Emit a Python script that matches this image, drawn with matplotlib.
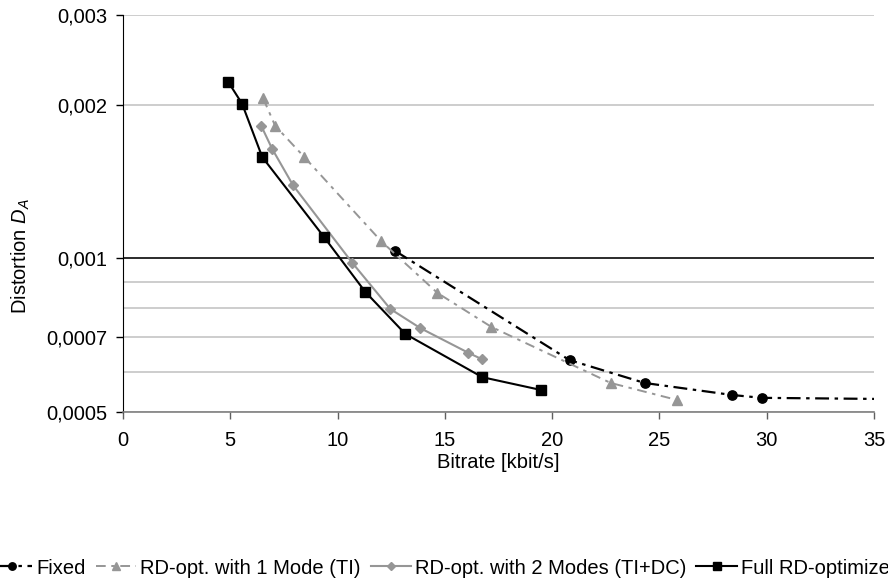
import matplotlib
matplotlib.use("Agg")
import matplotlib.pyplot as plt
from matplotlib.ticker import FixedLocator, NullFormatter

plt.rcParams['font.family'] = ['Liberation Sans', 'DejaVu Sans']
plt.rcParams['mathtext.fontset'] = 'custom'
plt.rcParams['mathtext.rm'] = 'Liberation Sans'
plt.rcParams['mathtext.it'] = 'Liberation Sans:italic'
plt.rcParams['lines.scale_dashes'] = False

# Bitrate [kbit/s] and distortion for each coding scheme
fixed_rate = [12.69, 20.81, 24.31, 28.37, 29.77, 40.0]
fixed_dist = [0.001034, 0.000632, 0.000570, 0.000540, 0.000533, 0.000528]

one_mode_rate = [6.53, 7.09, 8.45, 12.04, 14.65, 17.17, 22.73, 25.81]
one_mode_dist = [0.00206, 0.00182, 0.00158, 0.00108, 0.000856, 0.000734, 0.000570, 0.000528]

two_mode_rate = [6.44, 6.95, 7.93, 10.69, 12.46, 13.86, 16.10, 16.71]
two_mode_dist = [0.00182, 0.00164, 0.00139, 0.00098, 0.000796, 0.000730, 0.000653, 0.000635]

full_rate = [4.90, 5.55, 6.49, 9.38, 11.29, 13.16, 16.75, 19.50]
full_dist = [0.00222, 0.00201, 0.00158, 0.00110, 0.000860, 0.000711, 0.000585, 0.000552]

labels = ["Fixed", "RD-opt. with 1 Mode (TI)",
          "RD-opt. with 2 Modes (TI+DC)", "Full RD-optimized"]

y_ticks = [0.0005, 0.0007, 0.001, 0.002, 0.003]
y_ticklabels = ["0,0005", "0,0007", "0,001", "0,002", "0,003"]
y_minor = [0.0006, 0.0008, 0.0009]
x_ticks = [0, 5, 10, 15, 20, 25, 30, 35]

gray = '#969696'
fs = 14.5

fig = plt.figure(figsize=(8.88, 5.85), dpi=100)
ax = fig.add_axes([123 / 888, 1 - 412 / 585, 751 / 888, 397 / 585])

ax.set_yscale('log')
ax.set_xlim(0, 35)
ax.set_ylim(0.0005, 0.003)

ax.yaxis.set_major_locator(FixedLocator(y_ticks))
ax.yaxis.set_ticklabels(y_ticklabels)
ax.yaxis.set_minor_locator(FixedLocator(y_minor))
ax.yaxis.set_minor_formatter(NullFormatter())
ax.set_xticks(x_ticks)
ax.set_xticklabels([str(t) for t in x_ticks])

ax.grid(True, which='both', axis='y', color='#c0c0c0', linewidth=1.1, zorder=0)
ax.axhline(0.001, color='black', linewidth=1.1, zorder=1)
ax.set_axisbelow(True)

ax.tick_params(axis='y', which='major', length=5, width=1, direction='out',
               labelsize=fs, pad=6, color='black')
ax.tick_params(axis='y', which='minor', length=0)
ax.tick_params(axis='x', length=5, width=1, direction='out',
               labelsize=fs, pad=9, color='#606060')
for side in ['top', 'right']:
    ax.spines[side].set_visible(False)
ax.spines['left'].set_color('black')
ax.spines['bottom'].set_color('#808080')
ax.spines['bottom'].set_linewidth(1.2)

ax.plot(fixed_rate, fixed_dist, color='black', linewidth=1.6,
        linestyle=(0, (10, 4, 2.5, 4)), marker='o', markersize=6.7,
        label=labels[0], zorder=3)
ax.plot(one_mode_rate, one_mode_dist, color=gray, linewidth=1.4,
        linestyle=(0, (7, 4, 2.5, 4)), marker='^', markersize=7,
        label=labels[1], zorder=3)
ax.plot(two_mode_rate, two_mode_dist, color=gray, linewidth=1.5,
        linestyle='-', marker='D', markersize=4.6,
        label=labels[2], zorder=3)
ax.plot(full_rate, full_dist, color='black', linewidth=1.5,
        linestyle='-', marker='s', markersize=7.2,
        label=labels[3], zorder=4)

ax.set_xlabel("Bitrate [kbit/s]", fontsize=fs)
ax.xaxis.set_label_coords(0.5, (412 - 463) / 397)
ax.xaxis.label.set_va('center')
ax.set_ylabel("Distortion $D_A$", fontsize=fs)
ax.yaxis.set_label_coords((21 - 123) / 751, (412 - 256) / 397)
ax.yaxis.label.set_va('center')

fig.legend(loc='center left', bbox_to_anchor=(-8 / 888, 1 - 568 / 585),
           ncol=4, frameon=False, fontsize=fs, handlelength=2.0,
           handletextpad=0.2, columnspacing=0.5, borderpad=0,
           borderaxespad=0, markerscale=0.8)

fig.savefig("out.png", dpi=100)
